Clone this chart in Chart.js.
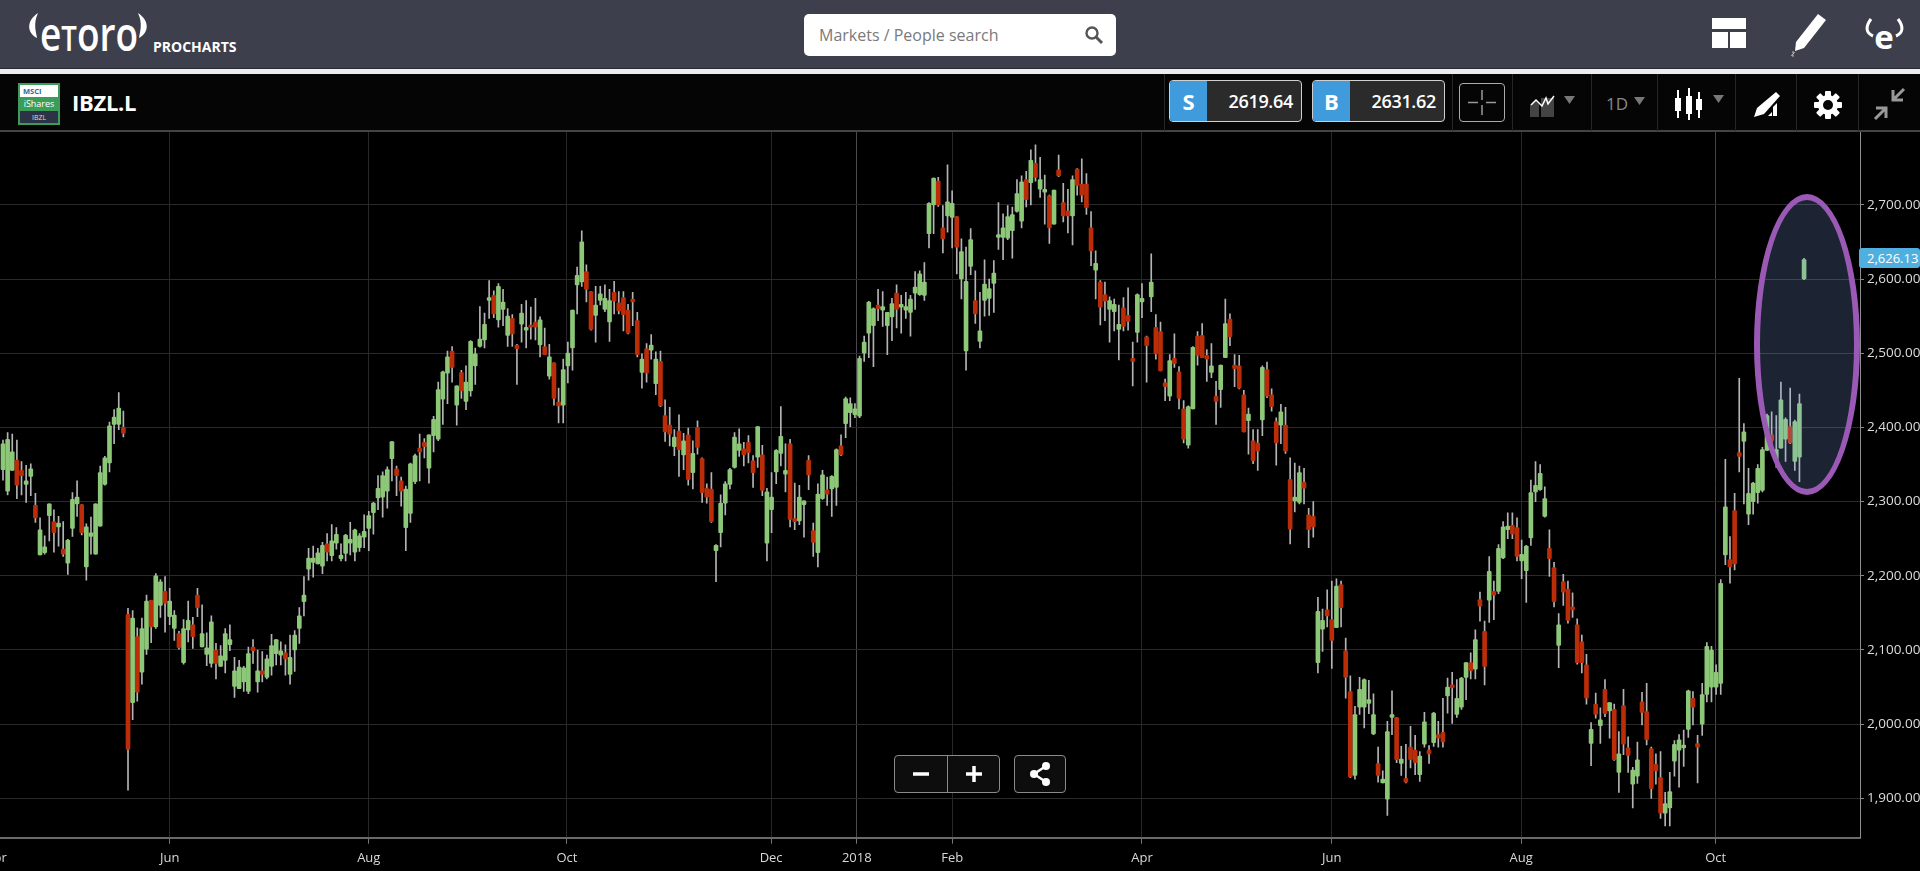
<!DOCTYPE html>
<html><head><meta charset="utf-8">
<script src="https://cdn.jsdelivr.net/npm/chart.js@4/dist/chart.umd.min.js"></script>
<style>
html,body{margin:0;padding:0;width:1920px;height:871px;overflow:hidden;background:#000;font-family:"Open Sans",sans-serif;}
.abs{position:absolute;box-sizing:border-box;}
#hdr{left:0;top:0;width:1920px;height:69px;background:#3d404c;border-bottom:1px solid #2a2c33;}
#wl{left:0;top:69px;width:1920px;height:5px;background:#eeeeee;}
#bar{left:0;top:74px;width:1920px;height:58px;background:#050505;border-bottom:2px solid #444;}
#search{left:804px;top:14px;width:312px;height:42px;background:#fff;border-radius:5px;color:#7a7a7a;font-size:16px;line-height:42px;padding-left:15px;}
.sep{top:74px;width:1px;height:57px;background:#262626;}
.px{top:80px;height:42px;border:1px solid #cfcfcf;border-radius:4px;background:#2b2b2b;color:#fff;font-size:18px;font-weight:600;line-height:40px;text-align:right;padding-right:8px;letter-spacing:-.3px;overflow:hidden;}
.px b{position:absolute;left:0;top:0;width:37px;height:41px;background:#3f9bdc;text-align:center;font-size:22px;font-weight:700;letter-spacing:0;}
#ell{left:1754px;top:194px;width:106px;height:301px;border:6px solid #9b59b6;border-radius:50%;background:rgba(140,175,255,.2);}
#tag{left:1859px;top:248px;width:61px;height:20px;background:#4fb0e0;border-radius:3px;color:#fff;font-size:13px;line-height:20px;padding-left:8px;}
.ctl{top:755px;height:38px;border:1px solid #8a8a8a;border-radius:4px;background:#0d0d0d;}
canvas{position:absolute;left:-40px;top:121px;}
</style></head>
<body>
<canvas id="c" width="1960" height="750"></canvas>
<div class="abs" id="ell"></div>
<div class="abs" id="tag">2,626.13</div>

<div class="abs" id="hdr"></div>
<div class="abs" id="wl"></div>
<div class="abs" id="bar"></div>

<svg class="abs" style="left:0;top:0" width="300" height="68">
  <text x="40" y="51" fill="#fff" font-family="Open Sans" font-weight="600" font-size="47" textLength="98" lengthAdjust="spacingAndGlyphs">e<tspan font-size="35">T</tspan>oro</text>
  <path d="M38 13 C26 21 27 33 37 38 C36 31 33 24 38 13Z M138 13 C150 21 149 33 139 38 C140 31 143 24 138 13Z" fill="#fff"/>
  <text x="153" y="52" fill="#fff" font-family="Open Sans" font-weight="700" font-size="14">PROCHARTS</text>
</svg>
<div class="abs" id="search">Markets / People search</div>
<svg class="abs" style="left:1084px;top:25px" width="20" height="20"><circle cx="8" cy="8" r="5.5" fill="none" stroke="#555" stroke-width="2.4"/><path d="M12 12L18 18" stroke="#555" stroke-width="3"/></svg>
<svg class="abs" style="left:1700px;top:0" width="220" height="68">
  <path d="M12 18h34v11H12zM12 32h16v16H12zM30 32h16v16H30z" fill="#fff"/>
  <path d="M118 14l8 6-22 28-9 3 1-9z" fill="#fff"/>
  <path d="M92 52c8 0-6 4 2 4" stroke="#ccc" fill="none"/>
  <path d="M171 19c-6 8-5 14 2 17M198 19c6 8 5 14-2 17" stroke="#fff" stroke-width="3" fill="none"/>
  <text x="184" y="49" fill="#fff" font-family="Open Sans" font-weight="700" font-size="33" text-anchor="middle">e</text>
</svg>

<svg class="abs" style="left:18px;top:83px" width="43" height="42">
  <rect x="0" y="0" width="42" height="42" fill="#3b9d57"/><rect x="2" y="2" width="38" height="12" fill="#fff"/><rect x="2" y="28" width="38" height="12" fill="#2d3347"/>
  <text x="5" y="11" font-size="7.5" font-weight="700" fill="#2b6a9c" font-family="Open Sans">MSCI</text>
  <text x="21" y="24" font-size="9" text-anchor="middle" fill="#fff" font-family="Open Sans">iShares</text>
  <text x="21" y="37" font-size="7" text-anchor="middle" fill="#ddd" font-family="Open Sans">IBZL</text>
</svg>
<div class="abs" style="left:72px;top:87px;color:#fff;font-size:22px;font-weight:700;line-height:30px;letter-spacing:-.3px">IBZL.L</div>

<div class="abs sep" style="left:1164px"></div>
<div class="abs px" style="left:1169px;width:133px"><b>S</b>2619.64</div>
<div class="abs px" style="left:1312px;width:133px"><b>B</b>2631.62</div>
<div class="abs sep" style="left:1452px"></div>
<div class="abs" style="left:1459px;top:83px;width:46px;height:39px;border:1px solid #aaa;border-radius:4px"></div>
<svg class="abs" style="left:1459px;top:83px" width="46" height="39"><path d="M23 7v10M23 22v10M9 19.5h10M27 19.5h10" stroke="#999" stroke-width="1.5"/></svg>
<div class="abs sep" style="left:1512px"></div>
<svg class="abs" style="left:1528px;top:90px" width="55" height="30"><path d="M2 27V15l5-5 4 4v13zM13 27V8h13v19z" fill="#444"/><path d="M3 15l5-5 6 6 4-8 2 6 6-8" stroke="#fff" stroke-width="1.5" fill="none"/><path d="M36 6h11l-5.5 8z" fill="#777"/></svg>
<div class="abs sep" style="left:1591px"></div>
<div class="abs" style="left:1606px;top:92px;color:#888;font-size:17px;line-height:24px">1D</div>
<svg class="abs" style="left:1633px;top:96px" width="14" height="10"><path d="M1 1h11l-5.5 8z" fill="#777"/></svg>
<div class="abs sep" style="left:1657px"></div>
<svg class="abs" style="left:1672px;top:88px" width="55" height="34"><path d="M6 2v28M17 0v32M27 4v26" stroke="#fff" stroke-width="2"/><path d="M3 10h6v13H3zM14 8h6v18h-6zM24 11h6v11h-6z" fill="#fff"/><path d="M41 7h11l-5.5 8z" fill="#777"/></svg>
<div class="abs sep" style="left:1735px"></div>
<svg class="abs" style="left:1752px;top:90px" width="32" height="30"><path d="M24 2l4 4-16 18-10 3 3-9z" fill="#fff"/><path d="M16 26l4-4v4zM21 26v-9l4-4v13z" fill="#fff"/></svg>
<div class="abs sep" style="left:1796px"></div>
<svg class="abs" style="left:1813px;top:90px" width="30" height="30"><g fill="#fff"><circle cx="15" cy="15" r="10"/><rect x="12" y="1" width="6" height="28" rx="1"/><rect x="1" y="12" width="28" height="6" rx="1"/><rect x="12" y="1" width="6" height="28" rx="1" transform="rotate(45 15 15)"/><rect x="12" y="1" width="6" height="28" rx="1" transform="rotate(-45 15 15)"/></g><circle cx="15" cy="15" r="5" fill="#050505"/></svg>
<div class="abs sep" style="left:1858px"></div>
<svg class="abs" style="left:1872px;top:86px" width="36" height="36"><path d="M32 3L22 13M21 4v10h10" stroke="#999" stroke-width="3" fill="none"/><path d="M3 33L13 23M4 22h10v10" stroke="#999" stroke-width="3" fill="none"/></svg>

<div class="abs ctl" style="left:894px;width:106px"></div>
<div class="abs" style="left:947px;top:755px;width:1px;height:38px;background:#8a8a8a"></div>
<svg class="abs" style="left:894px;top:755px" width="106" height="38"><path d="M19 19h16M72 19h16M80 11v16" stroke="#fff" stroke-width="3.500"/></svg>
<div class="abs ctl" style="left:1014px;width:52px"></div>
<svg class="abs" style="left:1014px;top:755px" width="52" height="38"><path d="M32 11L20 19l12 8" stroke="#fff" stroke-width="2.500" fill="none"/><circle cx="32" cy="11" r="4" fill="#fff"/><circle cx="20" cy="19" r="4" fill="#fff"/><circle cx="32" cy="27" r="4" fill="#fff"/></svg>

<script>
const xTickIndex=[-1.5,36,79,121.8,165.9,184.4,205,246,287,327.9,369.9];
const xTickLabels=["Apr","Jun","Aug","Oct","Dec","2018","Feb","Apr","Jun","Aug","Oct"];
const yTickValues=[1900,2000,2100,2200,2300,2400,2500,2600,2700];
const highs=[
2383,2393,2391,2383,2354,2349,2351,2311,2278,2254,
2297,2289,2280,2273,2249,2312,2328,2296,2270,2279,
2297,2348,2361,2407,2424,2447,2422,2156,2153,2130,
2143,2174,2167,2203,2195,2199,2183,2153,2125,2141,
2166,2144,2183,2161,2123,2146,2109,2106,2129,2134,
2090,2086,2078,2104,2114,2100,2098,2093,2121,2114,
2111,2107,2120,2126,2157,2199,2237,2240,2237,2245,
2257,2269,2265,2243,2256,2272,2263,2257,2282,2287,
2299,2335,2340,2347,2381,2348,2333,2321,2352,2364,
2391,2385,2390,2415,2461,2476,2503,2509,2456,2477,
2483,2517,2507,2563,2554,2598,2584,2594,2586,2560,
2552,2512,2566,2571,2562,2574,2549,2534,2512,2487,
2453,2492,2515,2558,2616,2665,2619,2583,2590,2590,
2592,2586,2597,2583,2583,2566,2582,2555,2499,2513,
2525,2502,2503,2437,2427,2397,2417,2392,2399,2382,
2409,2359,2324,2339,2242,2309,2327,2345,2393,2398,
2380,2389,2362,2401,2376,2318,2339,2370,2428,2378,
2384,2325,2322,2301,2362,2271,2324,2342,2333,2335,
2371,2390,2441,2440,2432,2496,2523,2570,2561,2586,
2583,2555,2574,2592,2578,2582,2578,2610,2611,2622,
2703,2736,2737,2699,2754,2719,2684,2654,2643,2668,
2611,2582,2626,2600,2625,2703,2688,2699,2697,2734,
2739,2745,2774,2781,2764,2740,2713,2720,2767,2729,
2721,2739,2749,2762,2742,2691,2638,2598,2596,2576,
2573,2565,2575,2588,2515,2580,2594,2523,2634,2552,
2542,2465,2498,2526,2482,2436,2429,2509,2529,2540,
2505,2513,2462,2484,2573,2553,2498,2497,2450,2426,
2397,2397,2483,2488,2452,2413,2431,2427,2359,2352,
2348,2345,2291,2300,2171,2155,2181,2193,2196,2193,
2116,2065,2024,2063,2061,2059,2041,1969,1937,2004,
2045,2009,1970,1973,1997,1985,1963,2016,1971,2016,
2004,2035,2062,2070,2060,2063,2083,2096,2127,2178,
2139,2226,2193,2242,2273,2285,2285,2278,2248,2241,
2329,2354,2350,2320,2262,2218,2149,2202,2193,2177,
2142,2120,2094,2002,2042,2022,2060,2029,2027,1990,
2047,1983,1942,1976,2043,2055,1969,1960,1963,1908,
1935,1978,1986,1992,2046,2044,1985,2055,2110,2105,
2080,2195,2357,2253,2311,2466,2405,2345,2326,2350,
2373,2418,2421,2416,2461,2413,2453,2410,2445,2628];
const lows=[
2329,2309,2342,2304,2309,2299,2308,2272,2228,2229,
2247,2232,2240,2226,2202,2253,2280,2255,2194,2229,
2229,2267,2322,2340,2378,2397,2387,1911,2006,2031,
2054,2094,2110,2129,2144,2124,2134,2113,2101,2081,
2111,2102,2145,2104,2079,2077,2061,2078,2069,2099,
2036,2048,2044,2041,2082,2043,2057,2061,2066,2080,
2080,2066,2054,2071,2109,2146,2194,2198,2216,2203,
2220,2220,2236,2220,2220,2228,2220,2233,2238,2234,
2256,2289,2279,2291,2328,2308,2294,2234,2272,2324,
2328,2359,2325,2367,2382,2404,2432,2461,2403,2439,
2424,2442,2458,2508,2507,2547,2548,2535,2537,2509,
2509,2458,2515,2507,2519,2518,2495,2498,2465,2430,
2406,2406,2460,2477,2553,2590,2569,2531,2515,2565,
2556,2516,2553,2553,2530,2526,2537,2495,2453,2461,
2492,2444,2428,2381,2375,2362,2334,2343,2322,2317,
2364,2299,2298,2272,2192,2239,2282,2317,2345,2361,
2348,2352,2319,2346,2308,2220,2258,2324,2348,2313,
2266,2262,2269,2252,2316,2226,2212,2303,2295,2280,
2295,2362,2386,2401,2413,2413,2489,2494,2482,2544,
2536,2498,2517,2534,2527,2547,2523,2559,2578,2571,
2642,2661,2698,2635,2663,2642,2607,2573,2477,2606,
2540,2507,2550,2551,2555,2640,2626,2653,2628,2690,
2669,2697,2700,2732,2710,2674,2648,2674,2738,2677,
2662,2646,2713,2704,2687,2618,2573,2538,2544,2515,
2530,2491,2530,2531,2456,2515,2548,2461,2556,2492,
2476,2436,2436,2481,2425,2379,2372,2425,2484,2494,
2462,2467,2404,2427,2494,2510,2455,2452,2394,2364,
2351,2342,2389,2440,2422,2349,2378,2365,2243,2286,
2297,2297,2238,2252,2069,2098,2131,2075,2130,2131,
2035,1928,1926,2013,1995,2014,1986,1922,1921,1877,
1986,1948,1931,1921,1941,1932,1923,1969,1947,1970,
1969,1969,2015,2001,2009,2020,2033,2061,2061,2139,
2053,2137,2141,2176,2223,2250,2250,2220,2196,2164,
2241,2300,2315,2279,2199,2158,2076,2160,2136,2144,
2081,2069,2027,1944,2008,1974,2010,1981,1951,1908,
1959,1935,1887,1920,1999,1972,1900,1919,1873,1863,
1863,1930,1915,1943,1982,1999,1921,1985,2030,2030,
2040,2040,2215,2190,2208,2340,2297,2269,2283,2298,
2313,2369,2366,2346,2372,2354,2378,2342,2327,2599];
const opens=[
2343,2314,2342,2356,2342,2323,2334,2295,2228,2231,
2281,2273,2266,2236,2217,2264,2297,2296,2212,2253,
2229,2267,2323,2352,2404,2404,2400,2148,2029,2118,
2070,2101,2167,2131,2160,2179,2145,2129,2122,2083,
2127,2134,2174,2104,2094,2082,2100,2078,2086,2107,
2051,2048,2057,2044,2104,2057,2072,2063,2078,2095,
2093,2096,2067,2100,2129,2165,2209,2218,2216,2213,
2243,2227,2244,2223,2230,2244,2232,2238,2252,2264,
2285,2305,2306,2314,2358,2344,2328,2265,2284,2327,
2372,2380,2345,2389,2384,2438,2473,2503,2430,2474,
2435,2449,2483,2509,2518,2571,2578,2545,2559,2524,
2547,2511,2539,2531,2538,2542,2511,2509,2469,2487,
2434,2430,2483,2507,2592,2596,2610,2583,2551,2571,
2559,2542,2582,2568,2575,2558,2573,2544,2474,2506,
2504,2459,2489,2416,2403,2374,2395,2363,2390,2339,
2400,2358,2318,2317,2234,2258,2298,2323,2346,2369,
2371,2380,2355,2360,2363,2244,2289,2340,2365,2337,
2378,2277,2274,2296,2356,2261,2231,2304,2316,2317,
2319,2375,2405,2420,2417,2415,2500,2527,2537,2565,
2558,2537,2549,2581,2562,2558,2555,2581,2579,2578,
2661,2700,2732,2669,2685,2683,2684,2600,2503,2617,
2571,2516,2571,2574,2594,2656,2656,2655,2665,2691,
2678,2734,2730,2756,2721,2717,2712,2674,2747,2703,
2692,2685,2748,2728,2728,2669,2612,2596,2579,2559,
2556,2532,2561,2551,2493,2528,2569,2522,2576,2535,
2529,2460,2442,2493,2475,2425,2376,2425,2523,2524,
2497,2474,2442,2451,2494,2546,2484,2483,2444,2409,
2382,2379,2410,2478,2444,2408,2403,2403,2330,2301,
2299,2326,2282,2280,2083,2128,2154,2141,2130,2188,
2099,2044,1931,2023,2023,2028,1987,1947,1921,1899,
2009,2009,1947,1927,1969,1965,1932,1973,1965,1975,
1986,1989,2038,2053,2013,2023,2063,2083,2074,2168,
2125,2167,2179,2179,2224,2262,2268,2265,2220,2207,
2251,2313,2316,2280,2237,2211,2106,2192,2182,2158,
2134,2111,2080,1974,2027,1998,2047,2018,2020,1935,
2025,1968,1919,1930,2030,2017,1967,1946,1928,1880,
1887,1950,1965,1968,1993,2035,1974,2000,2040,2050,
2050,2055,2228,2222,2288,2366,2381,2283,2300,2312,
2315,2369,2390,2357,2372,2384,2401,2354,2360,2600];
const closes=[
2378,2384,2367,2322,2335,2328,2344,2278,2262,2239,
2297,2258,2271,2229,2248,2303,2306,2258,2266,2258,
2297,2339,2359,2402,2414,2426,2392,1966,2143,2043,
2129,2166,2131,2200,2192,2163,2166,2147,2103,2129,
2140,2118,2157,2122,2103,2138,2082,2092,2122,2114,
2072,2077,2076,2095,2099,2072,2067,2088,2106,2114,
2099,2088,2090,2120,2146,2174,2224,2224,2231,2241,
2232,2247,2256,2228,2255,2249,2262,2254,2260,2281,
2298,2318,2335,2343,2381,2335,2314,2317,2351,2362,
2367,2374,2390,2411,2451,2475,2495,2481,2456,2449,
2461,2516,2499,2519,2539,2575,2553,2590,2569,2550,
2526,2506,2554,2535,2535,2535,2545,2498,2495,2439,
2429,2478,2500,2558,2605,2650,2586,2532,2565,2580,
2574,2571,2570,2557,2552,2527,2569,2498,2492,2473,
2511,2492,2429,2394,2391,2387,2370,2382,2330,2365,
2373,2312,2306,2273,2241,2298,2324,2343,2387,2378,
2363,2366,2339,2401,2315,2313,2306,2369,2388,2342,
2276,2273,2306,2301,2336,2245,2310,2336,2310,2334,
2370,2363,2439,2432,2425,2493,2515,2569,2560,2560,
2563,2555,2567,2559,2566,2563,2573,2589,2607,2596,
2702,2736,2700,2654,2704,2702,2643,2637,2597,2653,
2553,2530,2593,2587,2608,2660,2669,2684,2687,2715,
2731,2707,2760,2737,2734,2721,2669,2720,2739,2685,
2685,2734,2726,2713,2696,2638,2621,2562,2570,2571,
2566,2539,2536,2543,2489,2579,2574,2510,2596,2499,
2476,2455,2490,2486,2439,2384,2428,2508,2497,2494,
2492,2483,2435,2484,2540,2522,2479,2453,2394,2418,
2355,2368,2481,2442,2428,2379,2421,2368,2263,2306,
2339,2318,2262,2266,2152,2140,2146,2113,2186,2157,
2063,1929,2013,2047,2060,2033,2013,1931,1926,1990,
2013,1952,1953,1922,1952,1948,1957,2003,1960,2015,
1981,1976,2050,2049,2035,2062,2083,2072,2114,2159,
2078,2206,2174,2237,2266,2267,2256,2226,2229,2240,
2312,2322,2338,2304,2223,2165,2134,2178,2140,2154,
2083,2083,2035,1993,2013,2006,2014,2029,1952,1960,
1973,1958,1938,1952,2016,1979,1913,1937,1880,1893,
1909,1973,1979,1972,2045,2023,1969,2040,2105,2100,
2070,2190,2293,2212,2216,2361,2394,2311,2325,2345,
2370,2416,2382,2370,2437,2411,2379,2408,2432,2626.13];

const UP='#8dc878', DOWN='#ba2d08', WICK='#b4b4b4';
const bodies=opens.map((o,i)=>({x:i,y:[o,closes[i]]}));
const wicks=highs.map((h,i)=>({x:i,y:[lows[i],h]}));
new Chart(document.getElementById('c'),{
  type:'bar',
  data:{datasets:[
    {label:'Body',data:bodies,order:0,grouped:false,barThickness:4,borderRadius:1,borderSkipped:false,
     backgroundColor:bodies.map((b,i)=>closes[i]>=opens[i]?UP:DOWN)},
    {label:'Wick',data:wicks,order:1,grouped:false,barThickness:1,backgroundColor:WICK}
  ]},
  options:{
    responsive:false,animation:false,
    layout:{padding:0,autoPadding:false},
    plugins:{legend:{display:false},tooltip:{enabled:false}},
    scales:{
      x:{type:'linear',offset:false,min:-9.287,max:401.08,
        afterBuildTicks:s=>{s.ticks=xTickIndex.map(v=>({value:v}));},
        afterFit:s=>{s.height=33.3;},
        grid:{offset:false,color:c=>{const v=c.tick&&c.tick.value;const l=xTickLabels[xTickIndex.indexOf(v)];return l==='2018'?'#4a4a4a':(v===369.9?'#444':'#282828');},
              tickColor:'#777',tickLength:6,lineWidth:1},
        border:{color:'#6a6a6a',width:2},
        ticks:{autoSkip:false,maxRotation:0,minRotation:0,padding:7,color:'#d8d8d8',font:{family:'Open Sans',size:13},
               callback:v=>xTickLabels[xTickIndex.indexOf(v)]}
      },
      y:{type:'linear',position:'right',min:1847,max:2798,
        afterBuildTicks:s=>{s.ticks=yTickValues.map(v=>({value:v}));},
        afterFit:s=>{s.width=60;},
        grid:{color:'#2a2a2a',tickColor:'#888',tickLength:4,lineWidth:1},
        border:{color:'#8e8e8e',width:1},
        ticks:{align:'center',crossAlign:'near',padding:3,color:'#dcdcdc',font:{family:'Open Sans',size:13.5},
               callback:v=>v.toLocaleString('en-US',{minimumFractionDigits:2,maximumFractionDigits:2})}
      }
    }
  }
});
</script>
</body></html>
